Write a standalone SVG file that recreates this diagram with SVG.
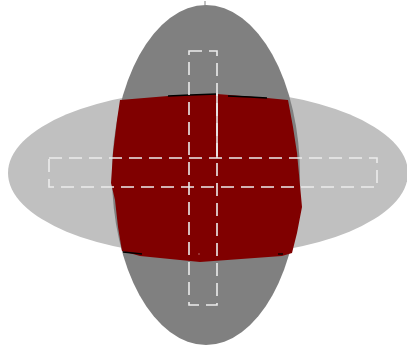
<svg xmlns="http://www.w3.org/2000/svg" width="407" height="350" viewBox="0 0 407 350">
  <style>
    .dash { fill: none; stroke: #ececec; stroke-width: 1.6; stroke-dasharray: 13 7; }
    .edge { fill: none; stroke: #000000; stroke-width: 1.3; }
  </style>
  <rect width="407" height="350" fill="#ffffff"/>
  <g id="horizontal-ellipse">
    <ellipse cx="208" cy="173" rx="200" ry="83" fill="#c0c0c0"/>
  </g>
  <g id="vertical-ellipse">
    <ellipse cx="206" cy="175" rx="94" ry="170" fill="#808080"/>
    <line x1="205" y1="1" x2="205" y2="6" stroke="#808080" stroke-width="1"/>
  </g>
  <g id="intersection">
    <path d="M120,100 L168,96 L217,94 L267,98 L288,100 L293,127 L297,153 L302,207 L297,233 L292,253 L282,256 L200,262 L140,256 L122,251 L118,227 L115,200 L111,183 L113,153 L117,120 Z" fill="#800000"/>
    <polyline class="edge" points="168,96 190,95 217,94"/>
    <polyline class="edge" points="228,96 250,97 267,98"/>
    <line class="edge" x1="123" y1="252" x2="142" y2="254"/>
    <line class="edge" x1="278" y1="254" x2="283" y2="254"/>
    <circle cx="199" cy="254" r="1" fill="#a04040"/>
  </g>
  <g id="vertical-box">
    <rect class="dash" x="189" y="51" width="28" height="254"/>
    <line x1="217" y1="93" x2="217" y2="158" stroke="#ececec" stroke-width="1.6"/>
  </g>
  <g id="horizontal-box">
    <rect class="dash" x="49" y="158" width="328" height="29"/>
  </g>
</svg>
